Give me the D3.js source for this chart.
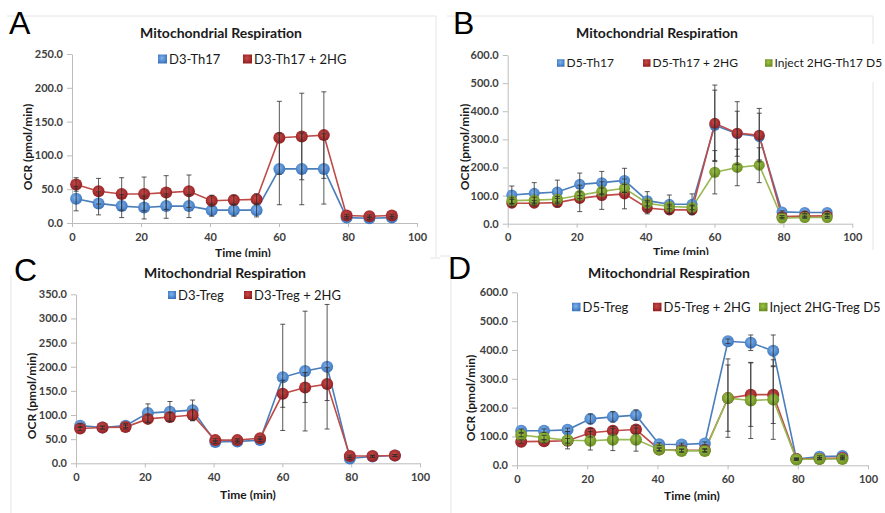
<!DOCTYPE html>
<html>
<head>
<meta charset="utf-8">
<script src="https://cdn.jsdelivr.net/npm/d3@7"></script>
<style>
  body { margin: 0; background: #fff; }
  svg { display: block; }
  .tick text { font-family: Lato, "Open Sans", sans-serif; font-weight: bold; font-size: 11px; fill: #404040; }
  .ptitle { font-family: Lato, sans-serif; font-weight: bold; font-size: 14px; fill: #1a1a1a; }
  .atitle { font-family: Lato, sans-serif; font-weight: bold; font-size: 12px; fill: #1a1a1a; }
  .legend { font-family: Lato, sans-serif; font-size: 13px; fill: #1a1a1a; }
  .letter { font-family: "Liberation Sans", Arial, sans-serif; font-size: 32px; fill: #000; }
</style>
</head>
<body>
<svg id="chart" width="885" height="513"></svg>
<script>
const time = [1.2, 7.7, 14.4, 20.9, 27.3, 33.9, 40.5, 46.9, 53.5, 60.1, 66.6, 73.0, 79.6, 86.2, 92.7]

// panel A - D3 Th17
const aBlue = [36, 29, 25, 23, 25, 25, 19, 19, 19, 80, 80, 80, 8, 7, 8]
const aBlueErr = [18, 17, 17, 17, 18, 17, 9, 9, 10, 53, 53, 52, 2, 2, 2]
const aRed = [57, 47, 43, 43, 45, 47, 33, 34, 35, 126, 128, 130, 11, 10, 11]
const aRedErr = [10, 19, 24, 25, 25, 24, 8, 7, 8, 54, 64, 64, 2, 2, 2]

// panel B - D5 Th17
const bBlue = [102, 108, 113, 140, 146, 154, 82, 69, 69, 350, 320, 310, 42, 40, 40]
const bBlueErr = [32, 38, 42, 40, 40, 43, 32, 33, 37, 125, 80, 83, 4, 4, 4]
const bRed = [73, 73, 75, 90, 100, 106, 56, 49, 49, 357, 322, 315, 25, 27, 28]
const bRedErr = [13, 10, 15, 47, 49, 53, 21, 14, 14, 136, 112, 95, 4, 4, 4]
const bGreen = [82, 84, 87, 101, 115, 126, 73, 61, 58, 183, 200, 208, 20, 22, 22]
const bGreenErr = [10, 10, 10, 12, 12, 14, 10, 8, 8, 77, 65, 62, 3, 3, 3]

// panel C - D3 Treg
const cBlue = [78, 74, 78, 104, 107, 110, 44, 45, 48, 178, 191, 200, 10, 14, 16]
const cBlueErr = [4, 3, 4, 19, 21, 21, 3, 3, 3, 110, 124, 129, 2, 2, 2]
const cRed = [72, 74, 75, 92, 96, 100, 48, 48, 52, 144, 157, 164, 15, 15, 16]
const cRedErr = [4, 3, 4, 8, 9, 12, 3, 3, 3, 28, 31, 34, 2, 2, 2]

// panel D - D5 Treg
const dBlue = [120, 120, 123, 161, 168, 174, 73, 72, 76, 430, 425, 397, 22, 30, 32]
const dBlueErr = [6, 6, 6, 17, 18, 18, 5, 5, 5, 8, 27, 55, 3, 3, 3]
const dRed = [82, 83, 85, 113, 120, 124, 55, 52, 53, 233, 245, 245, 22, 23, 25]
const dRedErr = [6, 6, 8, 15, 15, 15, 5, 5, 5, 115, 110, 100, 3, 3, 3]
const dGreen = [105, 96, 87, 85, 89, 89, 55, 50, 50, 233, 225, 228, 20, 22, 22]
const dGreenErr = [6, 8, 30, 32, 38, 40, 5, 5, 5, 136, 132, 138, 3, 3, 3]

const xTicks = [0, 20, 40, 60, 80, 100]
const panelTitle = 'Mitochondrial Respiration'
const yTitle = 'OCR (pmol/min)'
const xTitle = 'Time (min)'

const colors = {
  blue: { line: '#4a7ebb', light: '#7db3ee', dark: '#3c74bd' },
  red: { line: '#be4b48', light: '#c94a48', dark: '#931f21' },
  green: { line: '#98b954', light: '#9cc346', dark: '#6a8d22' }
}

const svg = d3.select('#chart')
const defs = svg.append('defs')
Object.entries(colors).forEach(([name, c]) => {
  const g = defs.append('radialGradient').attr('id', 'grad-' + name)
    .attr('cx', '45%').attr('cy', '40%').attr('r', '60%')
  g.append('stop').attr('offset', '0%').attr('stop-color', c.light)
  g.append('stop').attr('offset', '100%').attr('stop-color', c.dark)
})

function drawPanel (p) {
  const g = svg.append('g')
  g.append('rect')
    .attr('x', p.bg[0]).attr('y', p.bg[1]).attr('width', p.bg[2]).attr('height', p.bg[3])
    .attr('fill', '#fff')
  p.frame.forEach(f => {
    g.append('line').attr('x1', f[0]).attr('y1', f[1]).attr('x2', f[2]).attr('y2', f[3])
      .attr('stroke', '#e4e4e4').attr('stroke-width', 1)
  })

  const x = d3.scaleLinear().domain([0, 100]).range(p.xRange)
  const y = d3.scaleLinear().domain([0, p.yMax]).range(p.yRange)

  const yAxis = d3.axisLeft(y)
    .tickValues(d3.range(0, p.yMax + 1, p.yStep))
    .tickFormat(d3.format('.1f'))
    .tickSize(5).tickSizeOuter(0).tickPadding(4)
  const xAxis = d3.axisBottom(x).tickValues(xTicks).tickSize(4).tickSizeOuter(0).tickPadding(6)

  const ya = g.append('g').attr('transform', `translate(${p.xRange[0]},0)`).call(yAxis)
  const xa = g.append('g').attr('transform', `translate(0,${p.yRange[0]})`).call(xAxis)
  ;[ya, xa].forEach(a => {
    a.select('.domain').attr('stroke', '#bdbdbd')
    a.selectAll('.tick line').attr('stroke', '#bdbdbd')
  })

  const line = d3.line().x((d, i) => x(time[i])).y(d => y(d))

  p.series.forEach(s => {
    g.append('path').datum(s.values)
      .attr('d', line).attr('fill', 'none')
      .attr('stroke', colors[s.color].line).attr('stroke-width', 1.6)
  })
  p.series.forEach(s => {
    g.selectAll(null).data(s.values).join('circle')
      .attr('cx', (d, i) => x(time[i])).attr('cy', d => y(d))
      .attr('r', p.r).attr('fill', `url(#grad-${s.color})`)
  })
  p.series.forEach(s => {
    const eb = g.append('g').attr('stroke', '#2e2e2e').attr('stroke-width', 1).attr('stroke-opacity', 0.8)
    s.values.forEach((v, i) => {
      const cx = x(time[i])
      const lo = y(v - s.err[i])
      const hi = y(v + s.err[i])
      eb.append('line').attr('x1', cx).attr('x2', cx).attr('y1', lo).attr('y2', hi)
      eb.append('line').attr('x1', cx - 2.5).attr('x2', cx + 2.5).attr('y1', lo).attr('y2', lo)
      eb.append('line').attr('x1', cx - 2.5).attr('x2', cx + 2.5).attr('y1', hi).attr('y2', hi)
    })
  })

  // legend
  p.series.forEach((s, i) => {
    const lx = p.legendX[i]
    g.append('rect').attr('x', lx).attr('y', p.legendY - p.sq / 2)
      .attr('width', p.sq).attr('height', p.sq).attr('fill', `url(#grad-${s.color})`)
    g.append('text').attr('class', 'legend').attr('x', lx + p.sq + 2).attr('y', p.legendY)
      .attr('dy', '0.35em').style('font-size', p.legendFont + 'px').text(s.name)
  })

  g.append('text').attr('class', 'ptitle').attr('x', p.title[0]).attr('y', p.title[1])
    .attr('text-anchor', 'middle').text(panelTitle)
  g.append('text').attr('class', 'atitle')
    .attr('transform', `translate(${p.yTitle[0]},${p.yTitle[1]}) rotate(-90)`)
    .attr('text-anchor', 'middle').attr('dy', '0.35em').text(yTitle)
  g.append('text').attr('class', 'atitle').attr('x', p.xTitle[0]).attr('y', p.xTitle[1])
    .attr('text-anchor', 'middle').attr('dy', '0.35em').text(xTitle)
  g.append('text').attr('class', 'letter').attr('x', p.letter[0]).attr('y', p.letter[1]).text(p.label)
}

drawPanel({
  label: 'A', letter: [9, 34],
  bg: [0, 0, 440, 257], frame: [[7, 16, 436, 16], [436, 16, 436, 257]],
  xRange: [72, 417], yRange: [223, 54], yMax: 250, yStep: 50, r: 6,
  title: [221, 38], yTitle: [28, 147], xTitle: [243, 253],
  legendX: [158, 243], legendY: 59, sq: 9, legendFont: 13,
  series: [
    { name: 'D3-Th17', color: 'blue', values: aBlue, err: aBlueErr },
    { name: 'D3-Th17 + 2HG', color: 'red', values: aRed, err: aRedErr }
  ]
})

drawPanel({
  label: 'B', letter: [453, 34],
  bg: [440, 0, 445, 255], frame: [[447, 16, 873, 16], [873, 16, 873, 44], [873, 82, 873, 250]],
  xRange: [507.7, 852.3], yRange: [223.7, 55], yMax: 600, yStep: 100, r: 5.5,
  title: [657, 38], yTitle: [465, 147], xTitle: [681, 252],
  legendX: [557, 643, 765], legendY: 63, sq: 7.5, legendFont: 12,
  series: [
    { name: 'D5-Th17', color: 'blue', values: bBlue, err: bBlueErr },
    { name: 'D5-Th17 + 2HG', color: 'red', values: bRed, err: bRedErr },
    { name: 'Inject 2HG-Th17 D5', color: 'green', values: bGreen, err: bGreenErr }
  ]
})

drawPanel({
  label: 'C', letter: [14, 281],
  bg: [0, 257, 440, 256], frame: [[11, 275, 11, 513], [430, 258, 440, 258]],
  xRange: [76, 420], yRange: [463.3, 294.3], yMax: 350, yStep: 50, r: 6,
  title: [225, 278], yTitle: [32, 396], xTitle: [248, 495],
  legendX: [168, 244], legendY: 295, sq: 8, legendFont: 13,
  series: [
    { name: 'D3-Treg', color: 'blue', values: cBlue, err: cBlueErr },
    { name: 'D3-Treg + 2HG', color: 'red', values: cRed, err: cRedErr }
  ]
})

drawPanel({
  label: 'D', letter: [448, 279],
  bg: [440, 255, 445, 258], frame: [[451, 275, 451, 513], [440, 256, 451, 256]],
  xRange: [517, 868], yRange: [465.3, 292.3], yMax: 600, yStep: 100, r: 6,
  title: [669, 278], yTitle: [471, 398], xTitle: [692, 496],
  legendX: [572, 653, 759], legendY: 307, sq: 8.5, legendFont: 13,
  series: [
    { name: 'D5-Treg', color: 'blue', values: dBlue, err: dBlueErr },
    { name: 'D5-Treg + 2HG', color: 'red', values: dRed, err: dRedErr },
    { name: 'Inject 2HG-Treg D5', color: 'green', values: dGreen, err: dGreenErr }
  ]
})
</script>
</body>
</html>
